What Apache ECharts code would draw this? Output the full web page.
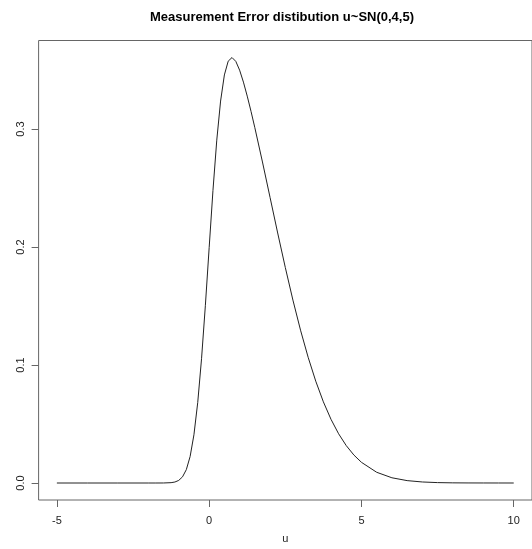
<!DOCTYPE html>
<html>
<head>
<meta charset="utf-8">
<script src="https://cdn.jsdelivr.net/npm/echarts@6/dist/echarts.min.js"></script>
<style>
html,body{margin:0;padding:0;background:#fff;}
#chart{width:532px;height:549px;}
</style>
</head>
<body>
<div id="chart"></div>
<script>
// Values
var u = [-5, -4, -3, -2, -1.75, -1.5, -1.25, -1.125, -1, -0.875, -0.75, -0.625, -0.5, -0.375, -0.25, -0.125,
         0, 0.125, 0.25, 0.375, 0.5, 0.625, 0.75, 0.875, 1, 1.125, 1.25, 1.375, 1.5, 1.75, 2, 2.25, 2.5, 2.75,
         3, 3.25, 3.5, 3.75, 4, 4.25, 4.5, 4.75, 5, 5.5, 6, 6.5, 7, 7.5, 8, 8.5, 9, 9.5, 10];
var density = [0, 0, 0, 0, 0, 0.00003, 0.00029, 0.00084, 0.00219, 0.00521, 0.01131, 0.02245, 0.04085, 0.06831, 0.10529, 0.15024,
         0.19947, 0.24792, 0.29055, 0.32368, 0.34582, 0.35749, 0.36056, 0.35732, 0.34988, 0.33973, 0.32787, 0.31489, 0.30111, 0.27206, 0.24197, 0.21188, 0.18265, 0.15502,
         0.12952, 0.10654, 0.08628, 0.06879, 0.05399, 0.04172, 0.03174, 0.02377, 0.01753, 0.00910, 0.00443, 0.00203, 0.00087, 0.00035, 0.00013, 0.00005, 0.00002, 0.00001, 0];
var xTicks = [-5, 0, 5, 10];
var yTicks = [0, 0.1, 0.2, 0.3];
var titleText = 'Measurement Error distibution u~SN(0,4,5)';
var xName = 'u';

var pts = u.map(function (x, i) { return [x, density[i]]; });
var chart = echarts.init(document.getElementById('chart'), null, {renderer: 'canvas'});
var font = 'Liberation Sans, Arial, Helvetica, sans-serif';
chart.setOption({
  animation: false,
  backgroundColor: '#ffffff',
  title: {
    text: titleText,
    left: 145, top: 6,
    textStyle: {fontFamily: font, fontWeight: 'bold', fontSize: 13, color: '#000'}
  },
  grid: {
    left: 38.6, top: 40.5, width: 497.4, height: 460.5,
    show: true, borderColor: '#666', borderWidth: 1, backgroundColor: 'transparent'
  },
  xAxis: {
    type: 'value', min: -5.6, max: 10.6,
    name: xName, nameLocation: 'middle', nameGap: 33,
    nameTextStyle: {fontFamily: font, fontSize: 11, color: '#222'},
    axisLine: {show: false, onZero: false},
    axisTick: {show: true, inside: false, customValues: xTicks, length: 7, lineStyle: {color: '#666'}},
    axisLabel: {customValues: xTicks, margin: 15, fontFamily: font, fontSize: 11, color: '#222'},
    splitLine: {show: false}
  },
  yAxis: {
    type: 'value', min: -0.0144, max: 0.375,
    axisLine: {show: false, onZero: false},
    axisTick: {show: true, inside: false, customValues: yTicks, length: 7, lineStyle: {color: '#666'}},
    axisLabel: {customValues: yTicks, rotate: 90, margin: 12, fontFamily: font, fontSize: 11, color: '#222',
      formatter: function (v) { return v.toFixed(1); }},
    splitLine: {show: false}
  },
  series: [{
    type: 'line', data: pts, showSymbol: false, smooth: false,
    lineStyle: {color: '#222', width: 1}
  }]
});
</script>
</body>
</html>
